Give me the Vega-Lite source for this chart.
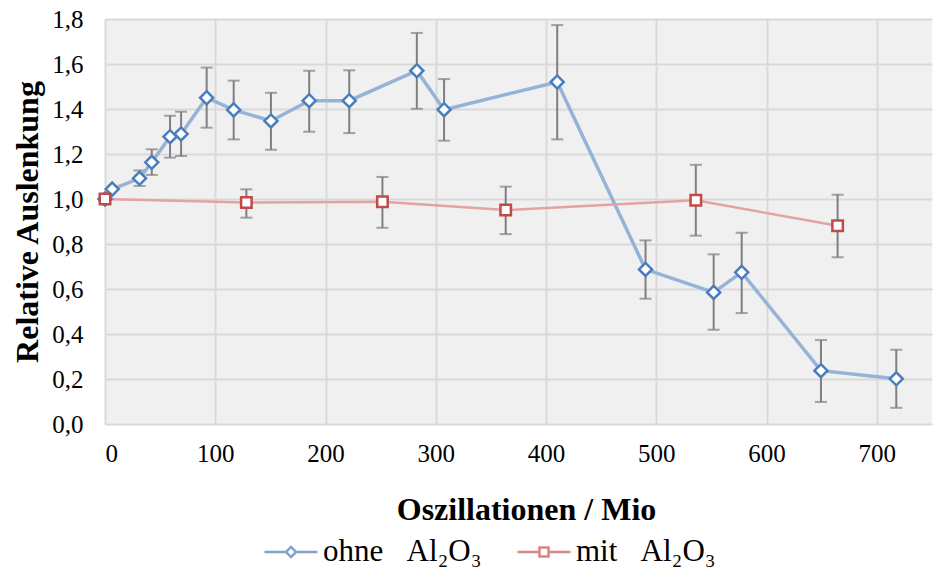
{
"$schema": "https://vega.github.io/schema/vega-lite/v6.json",
"width": 827,
"height": 405,
"autosize": {"type": "none"},
"padding": {"left": 105, "top": 19, "right": 1, "bottom": 153},
"background": "white",
"config": {
  "font": "Times New Roman, Liberation Serif, serif",
  "view": {"stroke": null, "fill": "#f0f0f0"},
  "axis": {"grid": true, "gridColor": "#d9d9d9", "gridWidth": 2, "domain": false, "ticks": false,
    "labelFont": "Times New Roman, Liberation Serif, serif", "labelFontSize": 25, "labelColor": "black",
    "titleFont": "Times New Roman, Liberation Serif, serif", "titleFontSize": 32, "titleFontWeight": "bold", "titleColor": "black"},
  "axisX": {"labelPadding": 17, "titlePadding": 28},
  "axisY": {"labelPadding": 22, "titlePadding": 7}
},
"datasets": {
  "pts": [
    {"s": "o", "serie": "ohne\u00a0\u00a0\u00a0Al₂O₃", "x": 0, "y": 1.0, "lo": null, "hi": null},
    {"s": "o", "serie": "ohne\u00a0\u00a0\u00a0Al₂O₃", "x": 6.5, "y": 1.044, "lo": null, "hi": null},
    {"s": "o", "serie": "ohne\u00a0\u00a0\u00a0Al₂O₃", "x": 31.3, "y": 1.092, "lo": 1.058, "hi": 1.127},
    {"s": "o", "serie": "ohne\u00a0\u00a0\u00a0Al₂O₃", "x": 42.4, "y": 1.163, "lo": 1.107, "hi": 1.221},
    {"s": "o", "serie": "ohne\u00a0\u00a0\u00a0Al₂O₃", "x": 59, "y": 1.277, "lo": 1.184, "hi": 1.37},
    {"s": "o", "serie": "ohne\u00a0\u00a0\u00a0Al₂O₃", "x": 69, "y": 1.289, "lo": 1.191, "hi": 1.388},
    {"s": "o", "serie": "ohne\u00a0\u00a0\u00a0Al₂O₃", "x": 92.2, "y": 1.45, "lo": 1.317, "hi": 1.584},
    {"s": "o", "serie": "ohne\u00a0\u00a0\u00a0Al₂O₃", "x": 116.7, "y": 1.396, "lo": 1.265, "hi": 1.526},
    {"s": "o", "serie": "ohne\u00a0\u00a0\u00a0Al₂O₃", "x": 150.5, "y": 1.347, "lo": 1.219, "hi": 1.472},
    {"s": "o", "serie": "ohne\u00a0\u00a0\u00a0Al₂O₃", "x": 185.2, "y": 1.437, "lo": 1.299, "hi": 1.57},
    {"s": "o", "serie": "ohne\u00a0\u00a0\u00a0Al₂O₃", "x": 221.5, "y": 1.437, "lo": 1.293, "hi": 1.572},
    {"s": "o", "serie": "ohne\u00a0\u00a0\u00a0Al₂O₃", "x": 282.8, "y": 1.57, "lo": 1.401, "hi": 1.738},
    {"s": "o", "serie": "ohne\u00a0\u00a0\u00a0Al₂O₃", "x": 307.5, "y": 1.397, "lo": 1.259, "hi": 1.533},
    {"s": "o", "serie": "ohne\u00a0\u00a0\u00a0Al₂O₃", "x": 410.1, "y": 1.52, "lo": 1.265, "hi": 1.773},
    {"s": "o", "serie": "ohne\u00a0\u00a0\u00a0Al₂O₃", "x": 490.2, "y": 0.687, "lo": 0.557, "hi": 0.816},
    {"s": "o", "serie": "ohne\u00a0\u00a0\u00a0Al₂O₃", "x": 552, "y": 0.585, "lo": 0.419, "hi": 0.754},
    {"s": "o", "serie": "ohne\u00a0\u00a0\u00a0Al₂O₃", "x": 577.4, "y": 0.674, "lo": 0.493, "hi": 0.85},
    {"s": "o", "serie": "ohne\u00a0\u00a0\u00a0Al₂O₃", "x": 649.3, "y": 0.237, "lo": 0.098, "hi": 0.373},
    {"s": "o", "serie": "ohne\u00a0\u00a0\u00a0Al₂O₃", "x": 717.6, "y": 0.201, "lo": 0.072, "hi": 0.33},
    {"s": "m", "serie": "mit\u00a0\u00a0\u00a0Al₂O₃", "x": 0, "y": 1.0, "lo": null, "hi": null},
    {"s": "m", "serie": "mit\u00a0\u00a0\u00a0Al₂O₃", "x": 128.2, "y": 0.984, "lo": 0.917, "hi": 1.043},
    {"s": "m", "serie": "mit\u00a0\u00a0\u00a0Al₂O₃", "x": 251.6, "y": 0.988, "lo": 0.872, "hi": 1.098},
    {"s": "m", "serie": "mit\u00a0\u00a0\u00a0Al₂O₃", "x": 363.4, "y": 0.951, "lo": 0.844, "hi": 1.055},
    {"s": "m", "serie": "mit\u00a0\u00a0\u00a0Al₂O₃", "x": 535.8, "y": 0.994, "lo": 0.837, "hi": 1.152},
    {"s": "m", "serie": "mit\u00a0\u00a0\u00a0Al₂O₃", "x": 664.4, "y": 0.881, "lo": 0.741, "hi": 1.019}
  ]
},
"data": {"name": "pts"},
"encoding": {
  "x": {"field": "x", "type": "quantitative", "scale": {"domain": [0, 750], "nice": false, "zero": false},
    "axis": {"values": [0, 100, 200, 300, 400, 500, 600, 700], "title": "Oszillationen / Mio", "titleX": 421, "labelFont": "Times New Roman, Liberation Serif, serif", "labelFontSize": 25}},
  "y": {"field": "y", "type": "quantitative", "scale": {"domain": [0, 1.8], "nice": false},
    "axis": {"values": [0, 0.2, 0.4, 0.6, 0.8, 1.0, 1.2, 1.4, 1.6, 1.8], "labelExpr": "replace(format(datum.value, '.1f'), '.', ',')", "title": "Relative Auslenkung", "labelFont": "Times New Roman, Liberation Serif, serif", "labelFontSize": 25}}
},
"layer": [
  {
    "transform": [{"filter": "isValid(datum.lo)"}],
    "mark": {"type": "errorbar", "color": "#7f7f7f", "thickness": 2, "ticks": {"size": 12, "thickness": 2, "color": "#7f7f7f"}},
    "encoding": {"y": {"field": "lo", "type": "quantitative"}, "y2": {"field": "hi"}}
  },
  {
    "transform": [{"filter": "datum.s == 'o'"}],
    "mark": {"type": "line", "color": "#95b3d7", "strokeWidth": 3.5}
  },
  {
    "transform": [{"filter": "datum.s == 'm'"}],
    "mark": {"type": "line", "color": "#e3a3a2", "strokeWidth": 2.5}
  },
  {
    "transform": [{"filter": "datum.s == 'o'"}],
    "mark": {"type": "point", "shape": "diamond", "filled": true, "fill": "white", "stroke": "#4a7ebb", "strokeWidth": 2.5, "size": 170, "opacity": 1}
  },
  {
    "transform": [{"filter": "datum.s == 'm'"}],
    "mark": {"type": "point", "shape": "square", "filled": true, "fill": "white", "stroke": "#be4b48", "strokeWidth": 2.5, "size": 110, "opacity": 1}
  },
  {
    "mark": {"type": "point", "filled": false, "opacity": 0, "strokeWidth": 2.5},
    "encoding": {
      "color": {"field": "serie", "type": "nominal",
        "scale": {"domain": ["ohne\u00a0\u00a0\u00a0Al₂O₃", "mit\u00a0\u00a0\u00a0Al₂O₃"], "range": ["#7fa3cf", "#d98684"]},
        "legend": {"orient": "none", "legendX": 158, "legendY": 505, "direction": "horizontal", "title": null,
          "symbolSize": 2809, "symbolStrokeWidth": 2.5, "symbolOpacity": 1, "labelFontSize": 31, "labelFont": "Times New Roman, Liberation Serif, serif", "labelColor": "black", "labelOffset": 4, "columnPadding": 30, "labelLimit": 400}},
      "shape": {"field": "serie", "type": "nominal",
        "scale": {"domain": ["ohne\u00a0\u00a0\u00a0Al₂O₃", "mit\u00a0\u00a0\u00a0Al₂O₃"], "range": ["M-1,0H-0.19M0.19,0H1M0,-0.19L0.19,0L0,0.19L-0.19,0Z", "M-1,0H-0.17M0.17,0H1M-0.17,-0.17H0.17V0.17H-0.17Z"]},
        "legend": {"orient": "none", "legendX": 158, "legendY": 505, "direction": "horizontal", "title": null,
          "symbolSize": 2809, "symbolStrokeWidth": 2.5, "symbolOpacity": 1, "labelFontSize": 31, "labelFont": "Times New Roman, Liberation Serif, serif", "labelColor": "black", "labelOffset": 4, "columnPadding": 30, "labelLimit": 400}}
    }
  }
]
}
